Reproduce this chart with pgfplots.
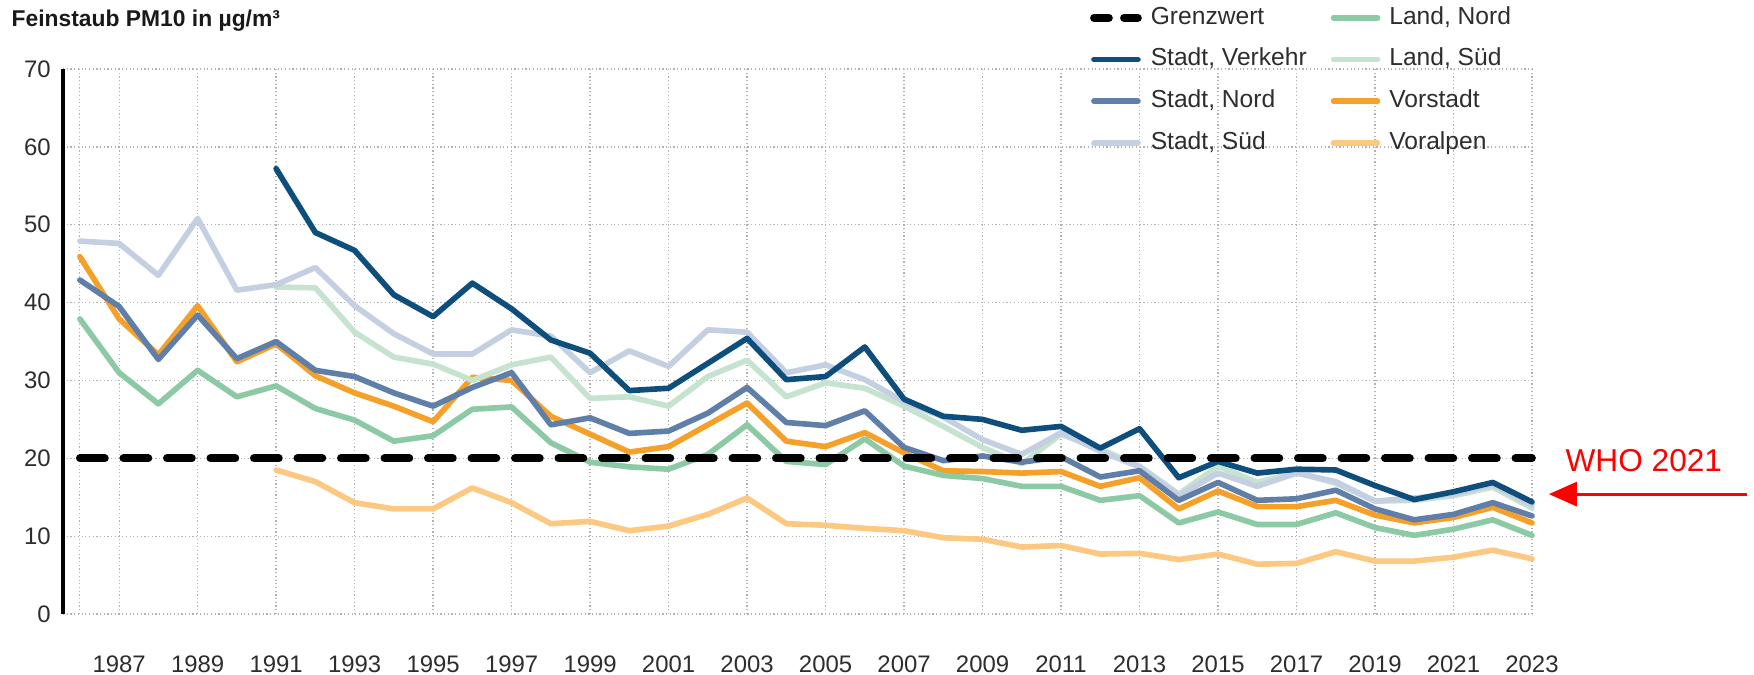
\documentclass[border=0pt]{standalone}
\usepackage{fontspec}
\setmainfont{Liberation Sans}
\usepackage{pgfplots}
\usepackage{pgfplotstable}
\pgfplotsset{compat=1.18}
\usetikzlibrary{arrows.meta}

\definecolor{cVerkehr}{RGB}{14,78,124}
\definecolor{cNord}{RGB}{95,127,168}
\definecolor{cSued}{RGB}{196,207,226}
\definecolor{cLandNord}{RGB}{140,201,165}
\definecolor{cLandSued}{RGB}{197,227,207}
\definecolor{cVorstadt}{RGB}{245,160,40}
\definecolor{cVoralpen}{RGB}{252,200,130}
\definecolor{cText}{RGB}{45,45,45}

\pgfplotstableread{
year verkehr nord sued landnord landsued vorstadt voralpen
1986 nan  42.9 47.9 37.9 nan  45.9 nan
1987 nan  39.5 47.6 31.0 nan  37.9 nan
1988 nan  32.7 43.5 27.0 nan  33.3 nan
1989 nan  38.4 50.8 31.3 nan  39.6 nan
1990 nan  32.8 41.6 27.9 nan  32.4 nan
1991 57.2 35.0 42.3 29.3 42.0 34.7 18.5
1992 49.0 31.3 44.5 26.4 41.9 30.6 17.0
1993 46.7 30.5 39.6 24.9 36.2 28.4 14.3
1994 41.0 28.4 36.0 22.2 33.0 26.7 13.5
1995 38.2 26.7 33.4 22.9 32.1 24.7 13.5
1996 42.5 29.1 33.4 26.3 30.0 30.4 16.2
1997 39.2 31.0 36.5 26.6 32.0 30.0 14.3
1998 35.2 24.3 35.7 22.0 33.0 25.4 11.6
1999 33.5 25.2 31.0 19.5 27.7 23.1 11.9
2000 28.7 23.2 33.8 18.9 27.9 20.8 10.7
2001 29.0 23.5 31.8 18.6 26.7 21.5 11.3
2002 32.2 25.8 36.5 20.5 30.5 24.3 12.8
2003 35.4 29.1 36.2 24.3 32.6 27.1 14.9
2004 30.1 24.6 31.0 19.6 27.9 22.2 11.6
2005 30.5 24.2 32.0 19.2 29.7 21.5 11.4
2006 34.3 26.1 30.1 22.5 29.0 23.3 11.0
2007 27.6 21.4 27.3 19.0 26.7 20.7 10.7
2008 25.4 19.7 25.3 17.8 24.1 18.4 9.8
2009 25.0 20.3 22.4 17.4 21.4 18.3 9.6
2010 23.6 19.5 20.5 16.4 19.3 18.1 8.6
2011 24.1 20.2 23.3 16.4 23.1 18.3 8.8
2012 21.3 17.6 20.9 14.6 21.2 16.4 7.7
2013 23.8 18.4 18.9 15.2 19.0 17.5 7.8
2014 17.5 14.6 15.2 11.7 15.4 13.5 7.0
2015 19.6 16.9 18.1 13.1 19.0 15.8 7.7
2016 18.1 14.6 16.4 11.5 16.9 13.8 6.4
2017 18.6 14.8 18.1 11.5 18.2 13.8 6.5
2018 18.5 15.9 17.0 13.0 16.8 14.6 8.0
2019 16.5 13.5 14.5 11.1 14.5 12.7 6.8
2020 14.7 12.1 14.9 10.1 14.6 11.7 6.8
2021 15.7 12.8 15.4 10.9 15.2 12.4 7.3
2022 16.9 14.3 16.6 12.1 16.3 13.7 8.2
2023 14.4 12.6 14.0 10.1 13.6 11.7 7.1
}\datatable

\begin{document}
\begin{tikzpicture}
\useasboundingbox (0,0) rectangle (17.54cm,6.74cm);
\node[anchor=base west, font=\bfseries\fontsize{6.5}{8}\selectfont, text=black!90, inner sep=0pt]
  at (0.11cm,6.48cm) {Feinstaub PM10 in µg/m³};
\begin{axis}[
  at={(0.63cm,0.60cm)}, anchor=south west,
  width=14.69cm, height=5.45cm, scale only axis,
  xmin=1985.57, xmax=2023, ymin=0, ymax=70,
  axis y line*=left, axis x line*=bottom,
  axis line style={-},
  x axis line style={draw=none},
  y axis line style={line width=0.9pt, black},
  xtick={1987,1989,...,2023},
  extra x ticks={1986}, extra x tick labels={},
  extra x tick style={grid=major},
  ytick={0,10,...,70},
  grid=major,
  grid style={black!30, line width=0.35pt, dash pattern=on 0.12mm off 0.25mm},
  major tick length=0pt,
  ticklabel style={font=\fontsize{6.8}{8}\selectfont, text=cText},
  /pgf/number format/1000 sep={},
  /pgf/number format/assume math mode=true,
  xticklabel style={yshift=-2.9mm},
  clip=false,
  no markers,
  every axis plot/.append style={line join=round, line cap=round},
  legend style={at={(axis cs:2011.74,78.03)}, anchor=north west, draw=none, fill=none,
    inner sep=0pt, outer sep=0pt, font=\fontsize{7}{8}\selectfont, text=cText,
    row sep=1.92mm,
    nodes={inner sep=0pt, text height=1.75mm, text depth=0.5mm},
    /tikz/every odd column/.append style={column sep=0.9mm},
    /tikz/every even column/.append style={column sep=2.4mm}},
  legend columns=2,
  legend cell align=left,
  legend image code/.code={\draw[#1] (0mm,0mm) -- (4.4mm,0mm);},
]
% legend entries (row-wise)
\addlegendimage{legend image code/.code={\draw[black, line width=2.2pt, line cap=round] (0mm,0mm) -- (1.5mm,0mm) (3.0mm,0mm) -- (4.4mm,0mm);}}
\addlegendentry{Grenzwert}
\addlegendimage{cLandNord, line width=1.6pt, line cap=round}
\addlegendentry{Land, Nord}
\addlegendimage{cVerkehr, line width=1.6pt, line cap=round}
\addlegendentry{Stadt, Verkehr}
\addlegendimage{cLandSued, line width=1.6pt, line cap=round}
\addlegendentry{Land, Süd}
\addlegendimage{cNord, line width=1.6pt, line cap=round}
\addlegendentry{Stadt, Nord}
\addlegendimage{cVorstadt, line width=1.6pt, line cap=round}
\addlegendentry{Vorstadt}
\addlegendimage{cSued, line width=1.6pt, line cap=round}
\addlegendentry{Stadt, Süd}
\addlegendimage{cVoralpen, line width=1.6pt, line cap=round}
\addlegendentry{Voralpen}

\addplot[forget plot, cVoralpen, line width=1.6pt] table[x=year, y=voralpen] {\datatable};
\addplot[forget plot, cVorstadt, line width=1.6pt] table[x=year, y=vorstadt] {\datatable};
\addplot[forget plot, cLandSued, line width=1.6pt] table[x=year, y=landsued] {\datatable};
\addplot[forget plot, cLandNord, line width=1.6pt] table[x=year, y=landnord] {\datatable};
\addplot[forget plot, cSued, line width=1.6pt] table[x=year, y=sued] {\datatable};
\addplot[forget plot, cNord, line width=1.6pt] table[x=year, y=nord] {\datatable};
\addplot[forget plot, cVerkehr, line width=1.6pt] table[x=year, y=verkehr] {\datatable};
\addplot[forget plot, black, line width=2.2pt, line cap=round, dash pattern=on 2.5mm off 1.85mm]
  coordinates {(1986,20) (2023,20)};

\node[text=red, font=\fontsize{9}{10}\selectfont, inner sep=0pt] at (axis cs:2025.85,19.7) {WHO 2021};
\draw[red, line width=0.85pt, -{Triangle[length=2.8mm,width=2.4mm]}]
  (axis cs:2028.47,15.4) -- (axis cs:2023.43,15.4);
\end{axis}
\end{tikzpicture}
\end{document}
